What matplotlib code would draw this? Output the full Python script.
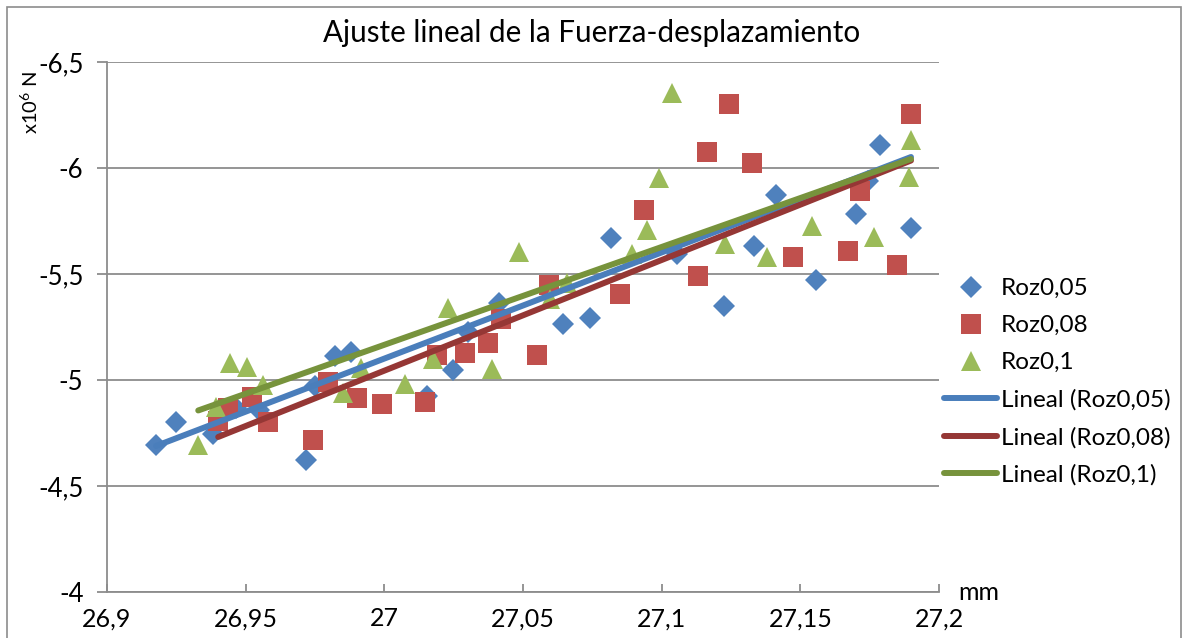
import numpy as np
import matplotlib
matplotlib.use("Agg")
import matplotlib.pyplot as plt
from matplotlib.patches import Rectangle

plt.rcParams['font.family'] = ['Lato', 'DejaVu Sans']
plt.rcParams['mathtext.fontset'] = 'custom'
plt.rcParams['mathtext.rm'] = 'Lato'
plt.rcParams['mathtext.it'] = 'Lato:italic'

# ---------------- data ----------------
x_roz005 = [26.9177, 26.9249, 26.9383, 26.9466, 26.9549, 26.9718, 26.9751, 26.9823,
            26.9881, 27.0155, 27.0249, 27.0303, 27.0412, 27.0643, 27.0740, 27.0819,
            27.1054, 27.1224, 27.1332, 27.1412, 27.1556, 27.1700, 27.1744, 27.1787,
            27.1899]
y_roz005 = [-4.693, -4.802, -4.745, -4.868, -4.859, -4.623, -4.972, -5.113,
            -5.132, -4.925, -5.047, -5.226, -5.363, -5.264, -5.293, -5.670,
            -5.594, -5.349, -5.632, -5.873, -5.472, -5.783, -5.939, -6.109,
            -5.717]

x_roz008 = [26.9401, 26.9437, 26.9523, 26.9581, 26.9744, 26.9798, 26.9903, 26.9993,
            27.0148, 27.0191, 27.0292, 27.0375, 27.0419, 27.0552, 27.0592, 27.0848,
            27.0935, 27.1130, 27.1162, 27.1242, 27.1325, 27.1473, 27.1671, 27.1715,
            27.1848, 27.1899]
y_roz008 = [-4.807, -4.868, -4.920, -4.802, -4.717, -4.991, -4.915, -4.887,
            -4.896, -5.118, -5.127, -5.175, -5.288, -5.118, -5.448, -5.406,
            -5.802, -5.491, -6.076, -6.302, -6.024, -5.580, -5.609, -5.892,
            -5.543, -6.255]

x_roz01 = [26.9329, 26.9394, 26.9444, 26.9505, 26.9563, 26.9852, 26.9917, 27.0076,
           27.0177, 27.0231, 27.0390, 27.0487, 27.0599, 27.0657, 27.0892, 27.0946,
           27.0989, 27.1036, 27.1227, 27.1379, 27.1542, 27.1765, 27.1892, 27.1899]
y_roz01 = [-4.693, -4.873, -5.080, -5.061, -4.976, -4.939, -5.057, -4.981,
           -5.099, -5.340, -5.052, -5.604, -5.382, -5.458, -5.594, -5.708,
           -5.953, -6.354, -5.642, -5.580, -5.726, -5.675, -5.958, -6.132]

# linear trend lines: slope and value at x = 27
trend_slope = [-5.007, -5.220, -4.615]
trend_at_27 = [-5.101, -5.044, -5.166]

series_labels = ['Roz0,05', 'Roz0,08', 'Roz0,1']
trend_labels = ['Lineal (Roz0,05)', 'Lineal (Roz0,08)', 'Lineal (Roz0,1)']
x_ticks = [26.9, 26.95, 27.0, 27.05, 27.1, 27.15, 27.2]
x_ticklabels = ['26,9', '26,95', '27', '27,05', '27,1', '27,15', '27,2']
y_ticks = [-6.5, -6.0, -5.5, -5.0, -4.5, -4.0]
y_ticklabels = ['-6,5', '-6', '-5,5', '-5', '-4,5', '-4']

# ---------------- styling ----------------
marker_colors = ['#4F81BD', '#C0504D', '#9BBB59']
trend_colors = ['#4A7EBB', '#953735', '#77933C']
markers = ['D', 's', '^']
msizes = [11.2, 14.5, 14.8]
grid_gray = '#8C8C8C'

W, H = 1186, 638
fig = plt.figure(figsize=(W / 100, H / 100), dpi=100)
fig.patch.set_facecolor('white')
fig.patches.append(Rectangle((7 / W, -0.05), (1181 - 7) / W, 1.05 - 7 / H,
                             transform=fig.transFigure, fill=False,
                             edgecolor='#8C8C8C', linewidth=1.2))

ax = fig.add_axes([107 / W, 1 - 592 / H, (939 - 107) / W, (592 - 62) / H])

xs = [x_roz005, x_roz008, x_roz01]
ys = [y_roz005, y_roz008, y_roz01]

handles_pts = []
for x, y, c, m, ms, lab in zip(xs, ys, marker_colors, markers, msizes, series_labels):
    h, = ax.plot(x, y, linestyle='none', marker=m, markersize=ms, color=c,
                 markeredgewidth=0, label=lab, zorder=3)
    handles_pts.append(h)

handles_tr = []
for x, k, b27, c, lab in zip(xs, trend_slope, trend_at_27, trend_colors, trend_labels):
    xx = np.array([min(x), max(x)])
    h, = ax.plot(xx, b27 + k * (xx - 27.0), color=c, linewidth=4.3,
                 solid_capstyle='round', label=lab, zorder=4)
    handles_tr.append(h)

ax.set_xlim(26.9, 27.2)
ax.set_ylim(-4.0, -6.5)
ax.set_xticks(x_ticks)
ax.set_xticklabels(x_ticklabels)
ax.set_yticks(y_ticks)
ax.set_yticklabels(y_ticklabels)

ax.grid(axis='y', color=grid_gray, linewidth=1.3)
ax.set_axisbelow(True)
for s in ['top', 'right']:
    ax.spines[s].set_visible(False)
for s in ['left', 'bottom']:
    ax.spines[s].set_color(grid_gray)
    ax.spines[s].set_linewidth(1.3)

ax.tick_params(axis='y', direction='out', length=7, width=1.3, color=grid_gray,
               labelsize=18.5, pad=10, labelcolor='black')
ax.tick_params(axis='x', direction='in', length=6, width=1.3, color=grid_gray,
               labelsize=18, pad=11, labelcolor='black')

fig.text(592 / W, 1 - 33 / H, 'Ajuste lineal de la Fuerza-desplazamiento',
         ha='center', va='center', fontsize=21.3)
fig.text(30 / W, 1 - 103 / H, 'x10$^{6}$ N', rotation=90, ha='center', va='center',
         fontsize=14.5)
fig.text(958 / W, 1 - 593 / H, 'mm', ha='left', va='center', fontsize=18)

leg = fig.legend(handles_pts + handles_tr, series_labels + trend_labels,
                 loc='center left', bbox_to_anchor=(944 / W, 1 - 382 / H),
                 frameon=False, fontsize=17.5, handlelength=2.2, handletextpad=0.15,
                 labelspacing=0.66, borderpad=0, borderaxespad=0)

fig.savefig('out.png', dpi=100)
